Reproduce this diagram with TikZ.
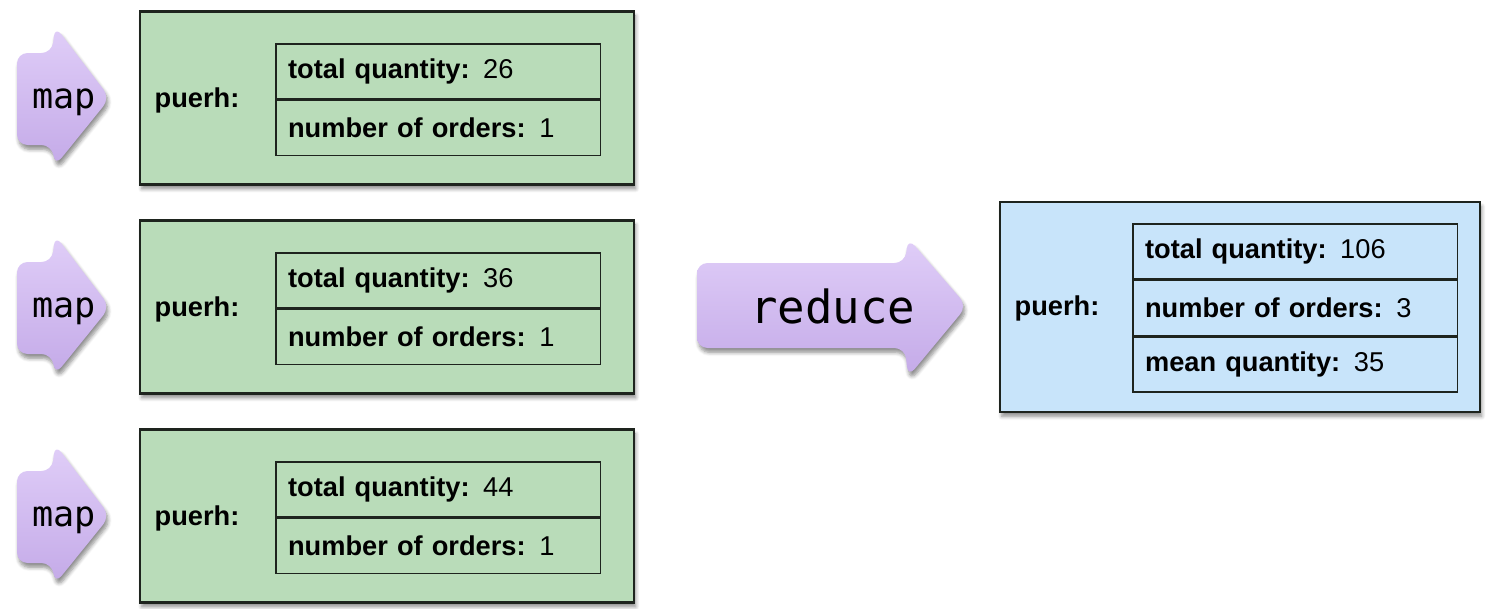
\documentclass[tikz,border=0pt]{standalone}
\usepackage{fontspec}
\setmainfont{Liberation Sans}
\setmonofont{DejaVu Sans Mono}
\usetikzlibrary{shadows.blur}

\definecolor{boxgreen}{RGB}{185,220,185}
\definecolor{boxblue}{RGB}{200,228,250}
\definecolor{edge}{RGB}{30,36,30}
\definecolor{arrowtop}{RGB}{224,206,248}
\definecolor{arrowbot}{RGB}{196,170,232}

\tikzset{
	card/.style={draw=edge, line width=1.2pt, blur shadow={shadow xshift=1pt, shadow yshift=-2.5pt, shadow blur steps=6, shadow opacity=45}},
	greencard/.style={card, fill=boxgreen, minimum width=9.88cm, minimum height=3.46cm},
	bluecard/.style={card, fill=boxblue, minimum width=9.6cm, minimum height=4.2cm},
	field/.style={draw=edge, line width=0.9pt, minimum height=1.1cm, inner xsep=7pt, text width=170.8pt, align=left, anchor=north west, font=\fontsize{15.5}{18}\selectfont},
	keylabel/.style={font=\fontsize{15.5}{18}\selectfont\bfseries},
	fatarrow/.style={top color=arrowtop, bottom color=arrowbot, rounded corners=6pt, blur shadow={shadow xshift=1pt, shadow yshift=-2.5pt, shadow blur steps=6, shadow opacity=45}},
	verb/.style={font=\ttfamily\fontsize{20}{24}\selectfont}
}

\begin{document}
\begin{tikzpicture}[x=0.02cm,y=-0.02cm]
	\useasboundingbox (0,0) rectangle (1489,609);
	
	% map side: one block per order
	\foreach \i/\q in {1/26,2/36,3/44}{
		\pgfmathsetmacro\yc{98+209*(\i-1)}	%centre line of the block
		\path[fatarrow] (17,\yc-45) -- (52,\yc-45) -- (55,\yc-72) -- (110,\yc) -- (55,\yc+68) -- (52,\yc+47) -- (17,\yc+47) -- cycle;
		\node[verb] (map\i) at (64,\yc+4) {map};
		\node[greencard] (box\i) at (387,\yc) {};
		\node[keylabel] (key\i) at (197,\yc+2) {puerh:};
		\node[field] (tq\i) at (275,\yc-55) {\textbf{total quantity:} \q};
		\node[field] (no\i) at (tq\i.south west) {\textbf{number of orders:} 1};
	}
	
	% reduce step
	\path[fatarrow] (697,263) -- (905,263) -- (908,238) -- (967,306) -- (908,377) -- (905,348) -- (697,348) -- cycle;
	\node[verb, font=\ttfamily\fontsize{26}{30}\selectfont] (red) at (833,306) {reduce};
	
	% result
	\node[bluecard] (res) at (1240,307) {};
	\node[keylabel] (reskey) at (1057,308) {puerh:};
	\node[field] (rtq) at (1132,223) {\textbf{total quantity:} 106};
	\node[field] (rno) at (rtq.south west) {\textbf{number of orders:} 3};
	\node[field] (rmq) at (rno.south west) {\textbf{mean quantity:} 35};
\end{tikzpicture}
\end{document}
